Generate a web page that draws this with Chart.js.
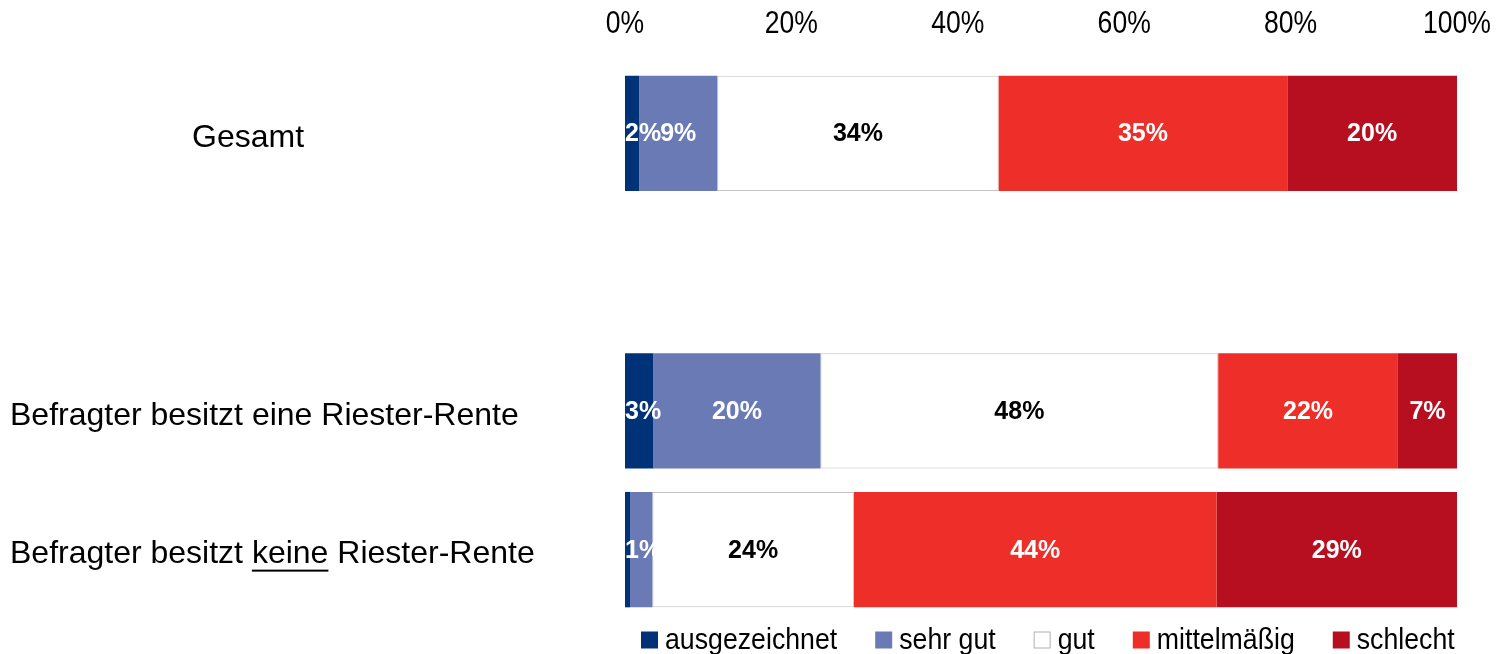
<!DOCTYPE html>
<html>
<head>
<meta charset="utf-8">
<script src="https://cdn.jsdelivr.net/npm/chart.js@4/dist/chart.umd.min.js"></script>
<style>
  html, body { margin: 0; padding: 0; background: #fff; }
  #wrap { width: 1501px; height: 654px; position: relative; }
</style>
</head>
<body>
<div id="wrap"><canvas id="c" width="1501" height="654"></canvas></div>
<script>
// ---- data ----
const categories = ['Gesamt', '', 'Befragter besitzt eine Riester-Rente', 'Befragter besitzt keine Riester-Rente'];
const underlinedWord = 'keine';
const seriesNames = ['ausgezeichnet', 'sehr gut', 'gut', 'mittelmäßig', 'schlecht'];
const ausgezeichnet = [1.7, null, 3.4, 0.6];
const sehrGut       = [9.4, null, 20.1, 2.7];
const gut           = [33.8, null, 47.8, 24.2];
const mittelmaessig = [34.7, null, 21.6, 43.6];
const schlecht      = [20.4, null, 7.1, 28.9];
const xTicks = [0, 20, 40, 60, 80, 100];

const colors = ['#003278', '#6a7ab5', '#ffffff', '#ee2e28', '#b80f20'];
const labelColors = ['#ffffff', '#ffffff', '#000000', '#ffffff', '#ffffff'];

const seriesValues = [ausgezeichnet, sehrGut, gut, mittelmaessig, schlecht];

const regular = '"Liberation Sans", Arial, sans-serif';

const datasets = seriesNames.map((name, i) => ({
  label: name,
  data: seriesValues[i],
  backgroundColor: colors[i],
  borderColor: i === 2 ? '#c4c4c4' : colors[i],
  borderWidth: i === 2 ? 1 : 0,
  borderSkipped: false,
  barPercentage: 1.0,
  categoryPercentage: 0.832
}));

// draw condensed text by horizontal scaling (no narrow font installed)
function narrowText(ctx, txt, x, y, sx, align) {
  const w = ctx.measureText(txt).width * sx;
  let left = x;
  if (align === 'center') left = x - w / 2;
  else if (align === 'right') left = x - w;
  ctx.save();
  ctx.translate(left, y);
  ctx.scale(sx, 1);
  ctx.textAlign = 'left';
  ctx.fillText(txt, 0, 0);
  ctx.restore();
  return w;
}

const labelsPlugin = {
  id: 'customLabels',
  afterDatasetsDraw(chart) {
    const ctx = chart.ctx;
    const area = chart.chartArea;

    // x tick labels (top axis)
    const xScale = chart.scales.x;
    ctx.save();
    ctx.font = '32px ' + regular;
    ctx.fillStyle = '#000';
    ctx.textBaseline = 'middle';
    xTicks.forEach(v => {
      narrowText(ctx, v + '%', xScale.getPixelForValue(v), 24, 0.83, 'center');
    });
    ctx.restore();

    // data labels
    ctx.save();
    ctx.beginPath();
    ctx.rect(area.left, 0, area.right - area.left, chart.height);
    ctx.clip();
    ctx.font = 'bold 25px ' + regular;
    ctx.textBaseline = 'middle';
    ctx.textAlign = 'center';
    categories.forEach((cat, ci) => {
      let prevRight = -Infinity;
      chart.data.datasets.forEach((ds, di) => {
        const v = ds.data[ci];
        if (v === null || v === undefined) return;
        const el = chart.getDatasetMeta(di).data[ci];
        const txt = Math.round(v) + '%';
        const w = ctx.measureText(txt).width;
        const left = Math.min(el.base, el.x);
        const right = Math.max(el.base, el.x);
        let cx = (left + right) / 2;
        if (cx - w / 2 < area.left) cx = area.left + w / 2;
        if (cx - w / 2 < prevRight - 5) return;
        ctx.fillStyle = labelColors[di];
        ctx.fillText(txt, cx, el.y + 1);
        prevRight = cx + w / 2;
      });
    });
    ctx.restore();

    // category labels
    const yScale = chart.scales.y;
    ctx.save();
    ctx.font = '32px ' + regular;
    ctx.fillStyle = '#000';
    ctx.textBaseline = 'middle';
    ctx.textAlign = 'left';
    const centerX = 248;
    categories.forEach((cat, ci) => {
      if (!cat) return;
      const y = yScale.getPixelForValue(ci) + 5;
      const w = ctx.measureText(cat).width;
      const x0 = Math.max(centerX - w / 2, 10);
      ctx.fillText(cat, x0, y);
      const idx = cat.indexOf(' ' + underlinedWord + ' ');
      if (idx >= 0) {
        const pre = cat.slice(0, idx + 1);
        const ux = x0 + ctx.measureText(pre).width;
        const uw = ctx.measureText(underlinedWord).width;
        ctx.fillRect(ux, y + 15, uw, 2);
      }
    });
    ctx.restore();

    // legend
    ctx.save();
    ctx.font = '30px ' + regular;
    ctx.textBaseline = 'middle';
    let x = area.left + 16;
    const ly = 640;
    chart.data.datasets.forEach((ds, di) => {
      ctx.fillStyle = colors[di];
      ctx.fillRect(x, ly - 8.5, 17, 17);
      if (di === 2) {
        ctx.strokeStyle = '#b0b0b0';
        ctx.lineWidth = 1;
        ctx.strokeRect(x + 0.5, ly - 8, 16, 16);
      }
      ctx.fillStyle = '#000';
      const tx = x + 24;
      const w = narrowText(ctx, ds.label, tx, ly + 1, 0.89, 'left');
      x = tx + w + 38;
    });
    ctx.restore();
  }
};

new Chart(document.getElementById('c'), {
  type: 'bar',
  data: { labels: categories, datasets },
  options: {
    indexAxis: 'y',
    responsive: false,
    animation: false,
    devicePixelRatio: 1,
    layout: { padding: { left: 0, right: 44, top: 0, bottom: 35 } },
    plugins: { legend: { display: false }, tooltip: { enabled: false } },
    scales: {
      x: {
        type: 'linear',
        position: 'top',
        stacked: true,
        min: 0,
        max: 100,
        afterBuildTicks(scale) { scale.ticks = xTicks.map(v => ({ value: v })); },
        afterFit(scale) { scale.height = 64; scale.paddingLeft = 0; scale.paddingRight = 0; },
        grid: { display: false, drawTicks: false },
        border: { display: false },
        ticks: { display: false }
      },
      y: {
        stacked: true,
        afterFit(scale) { scale.width = 625; },
        grid: { display: false, drawTicks: false },
        border: { display: false },
        ticks: { display: false }
      }
    }
  },
  plugins: [labelsPlugin]
});
</script>
</body>
</html>
